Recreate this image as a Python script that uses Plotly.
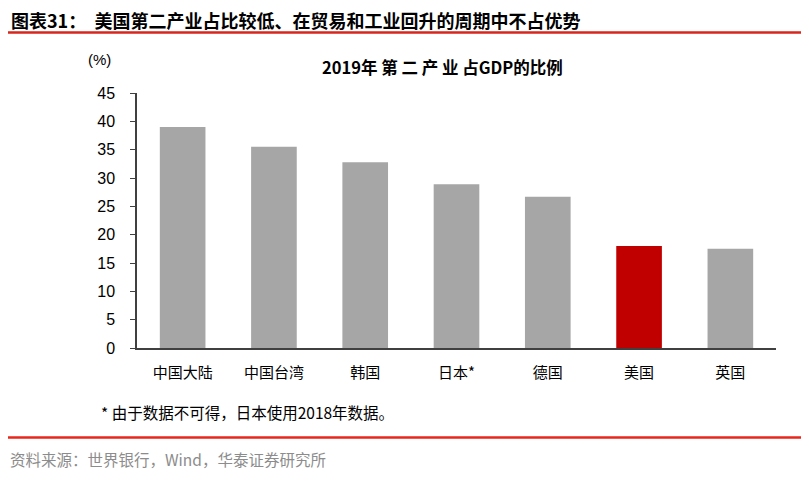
import plotly.graph_objects as go

categories = ['中国大陆', '中国台湾', '韩国', '日本*', '德国', '美国', '英国']
share_2019 = [39.0, 35.5, 32.8, 28.9, 26.7, 18.0, 17.5]
highlight = '美国'

bar_colors = ['#C00000' if c == highlight else '#A6A6A6' for c in categories]
cjk = 'Noto Sans CJK SC'

# the page body adds an 8px margin, so work in reference pixels minus 8
OFF = 8
W, H = 809 - OFF, 483 - OFF
L, R, T, B = 137 - OFF, 776 - OFF, 93 - OFF, 348 - OFF


def px_x(x):
    return (x - OFF - L) / (R - L)


def px_y(y):
    return (B - (y - OFF)) / (B - T)


fig = go.Figure(go.Bar(
    x=categories, y=share_2019,
    marker_color=bar_colors, marker_line_width=0,
    showlegend=False,
))

fig.update_layout(
    width=W, height=H,
    margin=dict(l=L, r=W - R, t=T, b=H - B),
    paper_bgcolor='white', plot_bgcolor='white',
    bargap=0.5,
    font=dict(family='Liberation Sans, Arial', color='black'),
)
fig.update_yaxes(
    range=[0, 45], dtick=5, showgrid=False,
    showline=True, linecolor='#404040', linewidth=1.5,
    ticks='outside', ticklen=5, tickcolor='#404040',
    ticklabelstandoff=12,
    tickfont=dict(size=16, family='Liberation Sans, Arial'),
)
fig.update_xaxes(
    showline=True, linecolor='#404040', linewidth=1.5,
    ticks='', ticklabelstandoff=10, tickfont=dict(size=15, family=cjk),
)

# header / titles
fig.add_annotation(text='<b>图表31：  美国第二产业占比较低、在贸易和工业回升的周期中不占优势</b>',
                   xref='paper', yref='paper', x=px_x(10), y=px_y(20),
                   xanchor='left', yanchor='middle', showarrow=False, borderpad=0,
                   font=dict(size=18, family=cjk))
fig.add_shape(type='line', xref='paper', yref='paper',
              x0=px_x(8), x1=px_x(809), y0=px_y(32.5), y1=px_y(32.5),
              line=dict(color='#D7261B', width=2.5))
fig.add_annotation(text='<b>2019年 第 二 产 业 占GDP的比例</b>',
                   xref='paper', yref='paper', x=px_x(442), y=px_y(67),
                   xanchor='center', yanchor='middle', showarrow=False,
                   font=dict(size=16.5, family=cjk))
fig.add_annotation(text='(%)', xref='paper', yref='paper',
                   x=px_x(99), y=px_y(59),
                   xanchor='center', yanchor='middle', showarrow=False,
                   font=dict(size=15, family='Liberation Sans, Arial'))

# footnote and source
fig.add_annotation(text='* 由于数据不可得，日本使用2018年数据。',
                   xref='paper', yref='paper', x=px_x(99), y=px_y(412),
                   xanchor='left', yanchor='middle', showarrow=False,
                   font=dict(size=15.5, family=cjk))
fig.add_shape(type='line', xref='paper', yref='paper',
              x0=px_x(8), x1=px_x(809), y0=px_y(437.5), y1=px_y(437.5),
              line=dict(color='#E8261B', width=2.5))
fig.add_annotation(text='资料来源：世界银行，Wind，华泰证券研究所',
                   xref='paper', yref='paper', x=px_x(8), y=px_y(459),
                   xanchor='left', yanchor='middle', showarrow=False,
                   font=dict(size=15.5, family=cjk, color='#8C8C8C'))

fig.write_html('out.html')
